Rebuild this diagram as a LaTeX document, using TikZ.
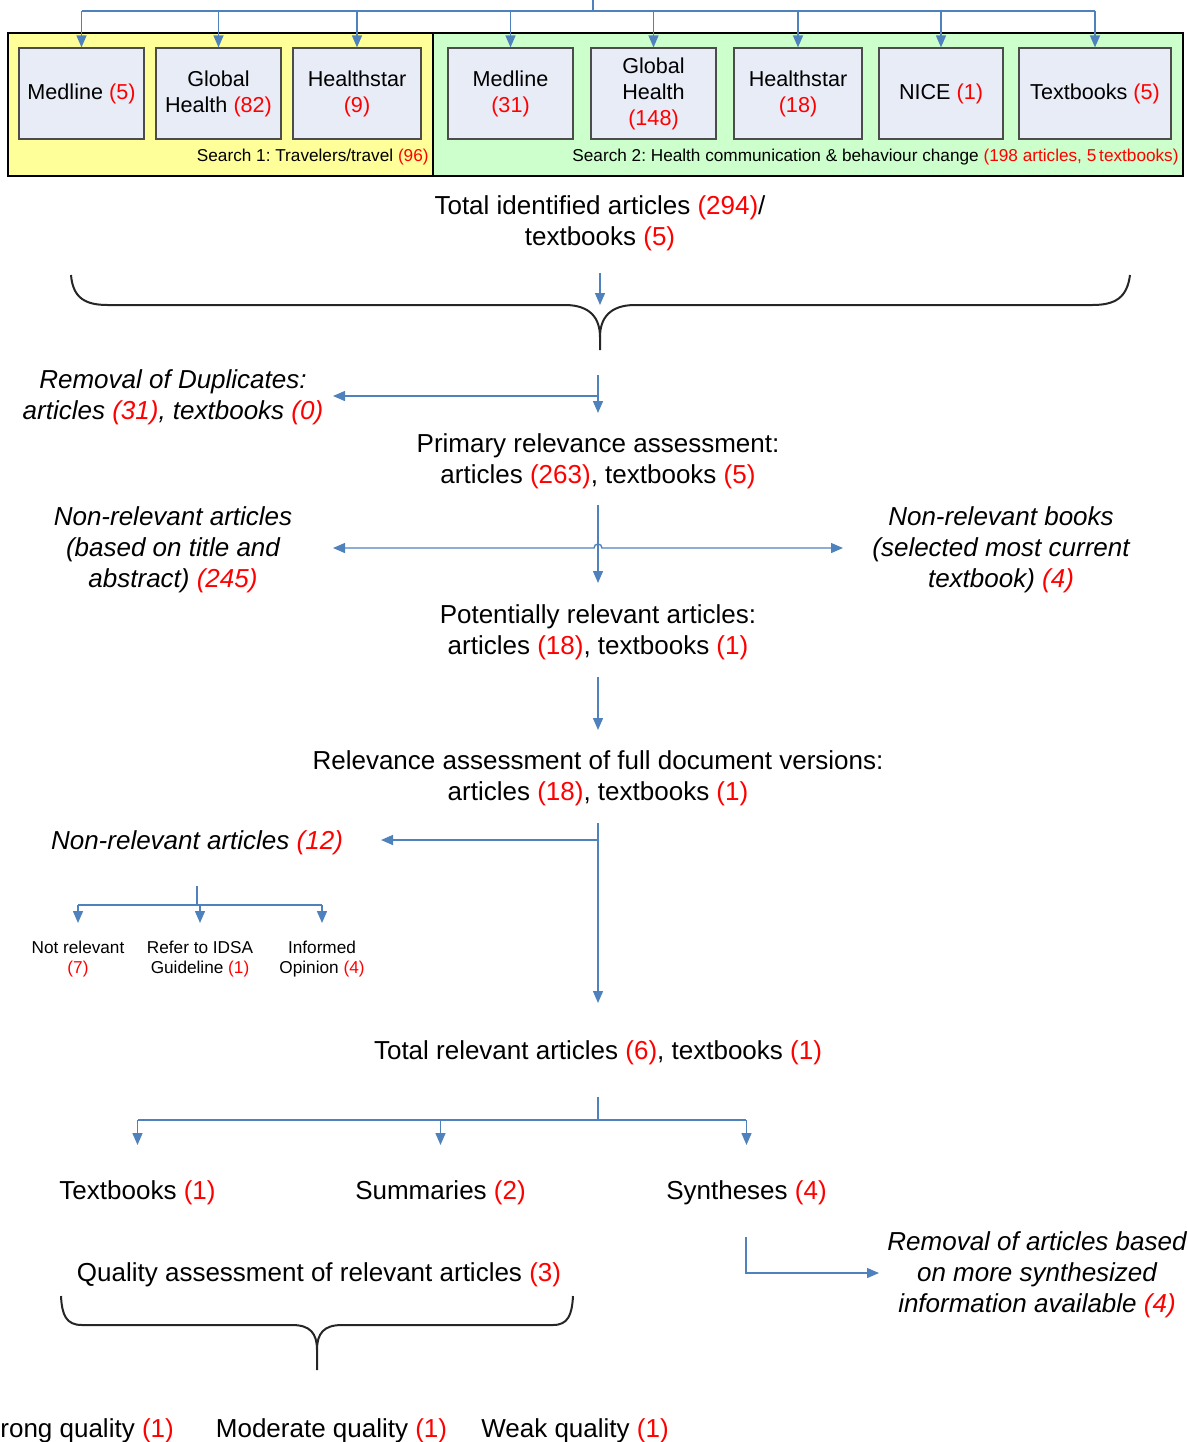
\documentclass[tikz,border=0pt]{standalone}
\usepackage{fontspec}
\setmainfont{Liberation Sans}
\usetikzlibrary{arrows.meta}
\frenchspacing

\definecolor{linkblue}{HTML}{4F81BD}
\definecolor{srcyellow}{HTML}{FFFF99}
\definecolor{srcgreen}{HTML}{CCFFCC}
\definecolor{dbfill}{HTML}{E8ECF7}
\newcommand{\cnt}[1]{\textcolor{red}{#1}}
\newcommand{\stagefont}{\fontsize{13}{15.5}\selectfont}
\newcommand{\dbfont}{\fontsize{10.8}{13}\selectfont}
\newcommand{\notefont}{\fontsize{8.6}{10}\selectfont}

\tikzset{
  link/.style={draw=linkblue, line width=0.7pt},
  flow/.style={link, -{Triangle[width=5pt,length=6pt]}},
  twoway/.style={link, {Triangle[width=5pt,length=6pt]}-{Triangle[width=5pt,length=6pt]}},
  brace/.style={draw=black!85, line width=1pt},
  dbbox/.style={draw=black!70, fill=dbfill, line width=0.6pt, minimum height=45.5pt,
    align=center, inner sep=1pt, font=\dbfont},
  stage/.style={align=center, inner sep=0pt, yshift=-1.2pt, font=\stagefont},
  drop/.style={stage, font=\stagefont\itshape},
  note/.style={align=center, inner sep=0pt, yshift=-1pt, font=\notefont},
}

\begin{document}
\begin{tikzpicture}[x=0.5pt, y=-0.5pt]
  \useasboundingbox (0,0) rectangle (1188,1442);
  %--- search frames ---
  \filldraw[fill=srcyellow, draw=black, line width=0.7pt] (8,33) rectangle (433,176);
  \filldraw[fill=srcgreen, draw=black, line width=0.7pt] (433,33) rectangle (1183,176);
  \node[note, anchor=east] (search1) at (429,155) {Search 1: Travelers/travel \cnt{(96)}};
  \node[note, anchor=east] (search2) at (1179,155)
    {Search 2: Health communication \& behaviour change \cnt{(198 articles, 5\,textbooks)}};
  %--- databases ---
  \foreach \id/\cx/\bw/\txt in {1/81.5/125/{Medline \cnt{(5)}},
                                2/218.5/125/{Global\\Health \cnt{(82)}},
                                3/357/128/{Healthstar\\\cnt{(9)}},
                                4/510.5/125/{Medline\\\cnt{(31)}},
                                5/653.5/125/{Global\\Health\\\cnt{(148)}},
                                6/798/128/{Healthstar\\\cnt{(18)}},
                                7/941/124/{NICE \cnt{(1)}},
                                8/1095/152/{Textbooks \cnt{(5)}}} {
    \node[dbbox, minimum width=\bw*0.5pt] (db\id) at (\cx,93.5) {\txt};
    \coordinate (tap\id) at (\cx,11);
    \draw[flow] (tap\id) -- (db\id);
  }
  \coordinate (feed) at (593,0);
  \coordinate (feedjoin) at (593,11);
  \draw[link] (tap1) -- (tap8);
  \draw[link] (feed) -- (feedjoin);
  %--- identification ---
  \node[stage] (identified) at (600,221) {Total identified articles \cnt{(294)}/\\textbooks \cnt{(5)}};
  \coordinate (mergetop) at (600,273);
  \coordinate (mergebot) at (600,305);
  \draw[flow] (mergetop) -- (mergebot);
  \draw[brace] (71,275) .. controls (73,298) and (85,305) .. (108,305) -- (565,305)
    .. controls (590,305) and (600,318) .. (600,337) -- (600,350);
  \draw[brace] (600,337) .. controls (600,318) and (610,305) .. (635,305) -- (1092,305)
    .. controls (1115,305) and (1127,298) .. (1130,275);
  %--- duplicates ---
  \node[drop] (dup) at (173,395) {Removal of Duplicates:\\articles \cnt{(31)}, textbooks \cnt{(0)}};
  \node[stage] (primary) at (598,458.5) {Primary relevance assessment:\\articles \cnt{(263)}, textbooks \cnt{(5)}};
  \coordinate (duptop) at (598,375);
  \coordinate (dupjoin) at (598,396);
  \coordinate (dupend) at (333,396);
  \coordinate (primtop) at (598,413);
  \draw[flow] (duptop) -- (primtop);
  \draw[flow] (dupjoin) -- (dupend);
  %--- primary screening ---
  \node[drop] (nrart) at (173,547) {Non-relevant articles\\(based on title and\\abstract) \cnt{(245)}};
  \node[drop] (nrbook) at (1001,547) {Non-relevant books\\(selected most current\\textbook) \cnt{(4)}};
  \node[stage] (potential) at (598,629.5) {Potentially relevant articles:\\articles \cnt{(18)}, textbooks \cnt{(1)}};
  \coordinate (primbot) at (598,505);
  \coordinate (pottop) at (598,583);
  \coordinate (nrartend) at (333,548);
  \coordinate (nrbookend) at (843,548);
  \draw[flow] (primbot) -- (pottop);
  \draw[twoway] (nrartend) -- (594,548) arc[start angle=180, end angle=0, radius=2pt] -- (nrbookend);
  %--- full document assessment ---
  \node[stage] (fulltext) at (598,775.5)
    {Relevance assessment of full document versions:\\articles \cnt{(18)}, textbooks \cnt{(1)}};
  \coordinate (potbot) at (598,677);
  \coordinate (fulltop) at (598,730);
  \draw[flow] (potbot) -- (fulltop);
  \node[drop] (nrfull) at (197,840) {Non-relevant articles \cnt{(12)}};
  \coordinate (fullbot) at (598,823);
  \coordinate (fulljoin) at (598,840);
  \coordinate (nrfullend) at (381,840);
  \coordinate (reltop) at (598,1003);
  \draw[flow] (fullbot) -- (reltop);
  \draw[flow] (fulljoin) -- (nrfullend);
  %--- reasons for exclusion ---
  \coordinate (whytop) at (197,886);
  \coordinate (whyjoin) at (197,905);
  \draw[link] (whytop) -- (whyjoin);
  \draw[link] (78,905) -- (322,905);
  \foreach \id/\cx/\txt in {1/78/{Not relevant\\\cnt{(7)}},
                            2/200/{Refer to IDSA\\Guideline \cnt{(1)}},
                            3/322/{Informed\\Opinion \cnt{(4)}}} {
    \node[note] (why\id) at (\cx,957) {\txt};
    \coordinate (whytap\id) at (\cx,905);
    \coordinate (whyend\id) at (\cx,923);
    \draw[flow] (whytap\id) -- (whyend\id);
  }
  %--- relevant documents ---
  \node[stage] (relevant) at (598,1050) {Total relevant articles \cnt{(6)}, textbooks \cnt{(1)}};
  \coordinate (relbot) at (598,1097);
  \coordinate (reljoin) at (598,1120);
  \draw[link] (relbot) -- (reljoin);
  \draw[link] (138,1120) -- (746,1120);
  \foreach \id/\cx/\txt in {1/137.5/{Textbooks \cnt{(1)}},
                            2/440.5/{Summaries \cnt{(2)}},
                            3/746.5/{Syntheses \cnt{(4)}}} {
    \node[stage] (kind\id) at (\cx,1190) {\txt};
    \coordinate (kindtap\id) at (\cx,1120);
    \coordinate (kindend\id) at (\cx,1145);
    \draw[flow] (kindtap\id) -- (kindend\id);
  }
  %--- removal of superseded syntheses ---
  \node[drop] (superseded) at (1037,1272)
    {Removal of articles based\\on more synthesized\\information available \cnt{(4)}};
  \coordinate (synbot) at (746,1237);
  \coordinate (synend) at (879,1273);
  \draw[flow] (synbot) |- (synend);
  %--- quality assessment ---
  \node[stage] (quality) at (319,1272) {Quality assessment of relevant articles \cnt{(3)}};
  \draw[brace] (61,1296) .. controls (62,1315) and (66,1325) .. (82,1325) -- (292,1325)
    .. controls (310,1325) and (317,1333) .. (317,1350) -- (317,1370);
  \draw[brace] (317,1350) .. controls (317,1333) and (324,1325) .. (342,1325) -- (553,1325)
    .. controls (568,1325) and (572,1315) .. (573,1296);
  \node[stage, anchor=west] (strong) at (0,1428) {rong quality \cnt{(1)}};
  \node[stage] (moderate) at (331.5,1428) {Moderate quality \cnt{(1)}};
  \node[stage] (weak) at (575,1428) {Weak quality \cnt{(1)}};
\end{tikzpicture}
\end{document}
